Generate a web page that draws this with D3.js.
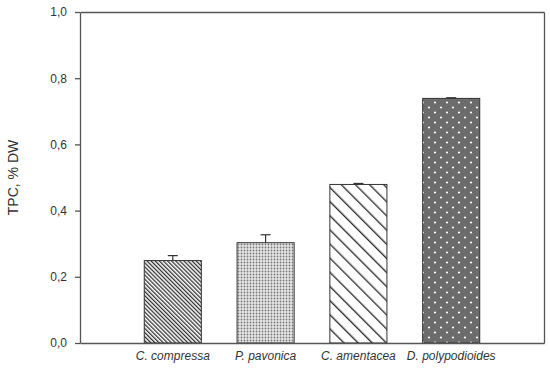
<!DOCTYPE html>
<html>
<head>
<meta charset="utf-8">
<script src="https://cdn.jsdelivr.net/npm/d3@7/dist/d3.min.js"></script>
<style>
  body { margin: 0; background: #fff; }
  text { font-family: "Liberation Sans", Arial, sans-serif; fill: #333; }
</style>
</head>
<body>
<div id="chart"></div>
<script>
var categories = ["C. compressa", "P. pavonica", "C. amentacea", "D. polypodioides"];
var values = [0.249, 0.303, 0.479, 0.739];
var errors = [0.015, 0.024, 0.003, 0.002];
var yTicks = [0, 0.2, 0.4, 0.6, 0.8, 1.0];
var patterns = ["dense-hatch", "fine-dots", "wide-hatch", "dark-dots"];

var width = 550, height = 369;
var margin = {top: 12, right: 6, bottom: 26, left: 80};

var svg = d3.select("#chart")
  .append("svg")
  .attr("width", width)
  .attr("height", height);

var defs = svg.append("defs");

// dense diagonal lines
var p1 = defs.append("pattern")
  .attr("id", "dense-hatch")
  .attr("patternUnits", "userSpaceOnUse")
  .attr("width", 2.9).attr("height", 2.9)
  .attr("patternTransform", "rotate(-45)");
p1.append("rect").attr("width", 2.9).attr("height", 2.9).attr("fill", "#fff");
p1.append("rect").attr("width", 1.3).attr("height", 2.9).attr("fill", "#333");

// fine grey stipple
var p2 = defs.append("pattern")
  .attr("id", "fine-dots")
  .attr("patternUnits", "userSpaceOnUse")
  .attr("width", 3).attr("height", 3);
p2.append("rect").attr("width", 3).attr("height", 3).attr("fill", "#e6e6e6");
p2.append("circle").attr("cx", 1.5).attr("cy", 1.5).attr("r", 0.9).attr("fill", "#777");

// wide diagonal lines
var p3 = defs.append("pattern")
  .attr("id", "wide-hatch")
  .attr("patternUnits", "userSpaceOnUse")
  .attr("width", 10).attr("height", 10)
  .attr("patternTransform", "rotate(-45)");
p3.append("rect").attr("width", 10).attr("height", 10).attr("fill", "#fff");
p3.append("rect").attr("width", 1.4).attr("height", 10).attr("fill", "#333");

// dark fill with white dots
var p4 = defs.append("pattern")
  .attr("id", "dark-dots")
  .attr("patternUnits", "userSpaceOnUse")
  .attr("width", 12).attr("height", 10);
p4.append("rect").attr("width", 12).attr("height", 10).attr("fill", "#6c6c6c");
p4.append("circle").attr("cx", 3).attr("cy", 2.5).attr("r", 1.1).attr("fill", "#fff");
p4.append("circle").attr("cx", 9).attr("cy", 7.5).attr("r", 1.1).attr("fill", "#fff");

var x = d3.scaleBand()
  .domain(categories)
  .range([margin.left, width - margin.right])
  .paddingInner(0.385)
  .paddingOuter(0.6925);

var y = d3.scaleLinear()
  .domain([0, 1])
  .range([height - margin.bottom, margin.top]);

var fmt = function(d) { return d3.format(".1f")(d).replace(".", ","); };

// bars
svg.selectAll("rect.bar")
  .data(values)
  .enter().append("rect")
  .attr("class", "bar")
  .attr("x", function(d, i) { return x(categories[i]); })
  .attr("y", function(d) { return y(d); })
  .attr("width", x.bandwidth())
  .attr("height", function(d) { return y(0) - y(d); })
  .attr("fill", function(d, i) { return "url(#" + patterns[i] + ")"; })
  .attr("stroke", "#333")
  .attr("stroke-width", 1);

// error bars (upper only)
var err = svg.selectAll("g.err")
  .data(values)
  .enter().append("g")
  .attr("class", "err")
  .attr("stroke", "#333")
  .attr("stroke-width", 1.2);

err.append("line")
  .attr("x1", function(d, i) { return x(categories[i]) + x.bandwidth() / 2; })
  .attr("x2", function(d, i) { return x(categories[i]) + x.bandwidth() / 2; })
  .attr("y1", function(d) { return y(d); })
  .attr("y2", function(d, i) { return y(d + errors[i]); });

err.append("line")
  .attr("x1", function(d, i) { return x(categories[i]) + x.bandwidth() / 2 - 5; })
  .attr("x2", function(d, i) { return x(categories[i]) + x.bandwidth() / 2 + 5; })
  .attr("y1", function(d, i) { return y(d + errors[i]); })
  .attr("y2", function(d, i) { return y(d + errors[i]); });

// axes and frame
var yAxis = svg.append("g")
  .attr("transform", "translate(" + margin.left + ",0)")
  .call(d3.axisLeft(y).tickValues(yTicks).tickFormat(fmt).tickSize(5).tickPadding(8).tickSizeOuter(0));

var xAxis = svg.append("g")
  .attr("transform", "translate(0," + (height - margin.bottom) + ")")
  .call(d3.axisBottom(x).tickSize(0).tickPadding(8));

svg.append("g")
  .attr("transform", "translate(0," + margin.top + ")")
  .call(d3.axisTop(x).tickValues([]).tickSizeOuter(0));

svg.append("g")
  .attr("transform", "translate(" + (width - margin.right) + ",0)")
  .call(d3.axisRight(y).tickValues([]).tickSizeOuter(0));

svg.selectAll(".domain, .tick line")
  .attr("stroke", "#555")
  .attr("stroke-width", 1.3);

yAxis.selectAll("text")
  .attr("font-size", 12)
  .style("font-family", "Liberation Sans, Arial, sans-serif")
  .attr("fill", "#333");

xAxis.selectAll("text")
  .attr("font-size", 12)
  .attr("font-style", "italic")
  .style("font-family", "Liberation Sans, Arial, sans-serif")
  .attr("fill", "#333");

svg.append("text")
  .attr("transform", "rotate(-90)")
  .attr("x", -(margin.top + height - margin.bottom) / 2)
  .attr("y", 18)
  .attr("text-anchor", "middle")
  .attr("font-size", 14)
  .text("TPC, % DW");
</script>
</body>
</html>
